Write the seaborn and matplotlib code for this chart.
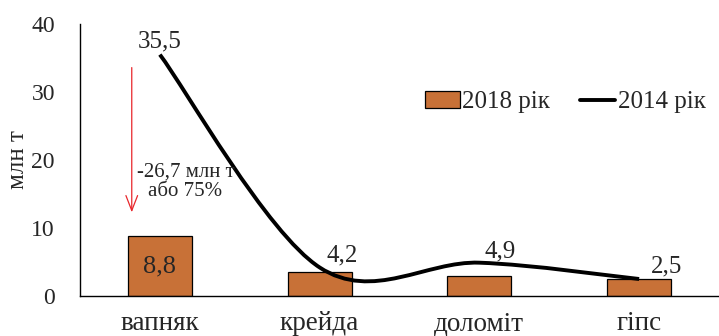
import matplotlib
matplotlib.use("Agg")
import matplotlib.pyplot as plt
from matplotlib.path import Path
from matplotlib.patches import PathPatch
import numpy as np
import pandas as pd
import seaborn as sns

# Production of non-metallic raw materials, million tonnes
minerals = ["вапняк", "крейда", "доломіт", "гіпс"]
output_2018 = [8.8, 3.55, 2.95, 2.5]
output_2014 = [35.5, 4.2, 4.9, 2.5]
label_2018 = "2018 рік"
label_2014 = "2014 рік"
y_ticks = [0, 10, 20, 30, 40]

bar_color = "#C87137"

sns.set_theme(style="white")
plt.rcParams["font.family"] = ["Liberation Serif", "DejaVu Serif"]

fig = plt.figure(figsize=(7.19, 3.36), dpi=100)
ax = fig.add_axes([80 / 719, 40 / 336, 639 / 719, 272 / 336])

df = pd.DataFrame({"mineral": minerals, "value": output_2018})
sns.barplot(data=df, x="mineral", y="value", color=bar_color, width=0.4,
            saturation=1, edgecolor="black", linewidth=0.9, ax=ax,
            label=label_2018, zorder=2)

# Smoothed 2014 curve: Catmull-Rom segments as cubic Bezier pieces
pts = np.column_stack([np.arange(len(output_2014)), output_2014]).astype(float)
padded = np.vstack([pts[0], pts, pts[-1]])
verts = [tuple(pts[0])]
codes = [Path.MOVETO]
for i in range(len(pts) - 1):
    p0, p1, p2, p3 = padded[i], padded[i + 1], padded[i + 2], padded[i + 3]
    c1 = p1 + (p2 - p0) / 6
    c2 = p2 - (p3 - p1) / 6
    verts += [tuple(c1), tuple(c2), tuple(p2)]
    codes += [Path.CURVE4] * 3
curve = PathPatch(Path(verts, codes), facecolor="none", edgecolor="black",
                  linewidth=2.8, capstyle="butt", zorder=3)
ax.add_patch(curve)
line_handle = ax.plot([], [], color="black", linewidth=2.8, label=label_2014)[0]

# Value labels
ax.text(0, output_2018[0] / 2, f"{output_2018[0]:.1f}".replace(".", ","),
        ha="center", va="center", fontsize=19, zorder=4)
label_offsets = [(0.0, 2.0), (0.14, 1.8), (0.13, 1.6), (0.17, 1.8)]
for i, (v, (dx, dy)) in enumerate(zip(output_2014, label_offsets)):
    ax.text(i + dx, v + dy, f"{v:.1f}".replace(".", ","), ha="center",
            va="center", fontsize=18, zorder=4)

# Decline annotation for limestone
ax.annotate("", xy=(-0.176, 11.9), xytext=(-0.176, 34.0),
            arrowprops=dict(arrowstyle="->,head_length=0.9,head_width=0.35",
                            color="#E8262B", lw=0.9))
ax.text(0.16, 16.8, "-26,7 млн т\nабо 75%", ha="center", va="center",
        multialignment="center", fontsize=15, linespacing=1.05)

ax.set_xlim(-0.5, 3.5)
ax.set_ylim(0, 40)
ax.set_yticks(y_ticks)
ax.set_yticklabels([str(t) for t in y_ticks])
ax.set_xlabel("")
ax.set_ylabel("млн т", fontsize=18, labelpad=2)
ax.tick_params(axis="y", labelsize=17, length=0, pad=18)
ax.tick_params(axis="x", labelsize=19.5, length=0, pad=11)
for side in ["top", "right"]:
    ax.spines[side].set_visible(False)
for side in ["left", "bottom"]:
    ax.spines[side].set_color("black")
    ax.spines[side].set_linewidth(1.0)
ax.spines["bottom"].set_zorder(5)

ax.legend(handles=[ax.patches[0], line_handle], labels=[label_2018, label_2014],
          loc="center", bbox_to_anchor=(0.759, 0.713), ncol=2, frameon=False,
          fontsize=18, handlelength=1.4, handletextpad=0.1, columnspacing=1.2,
          borderpad=0, borderaxespad=0)

fig.savefig("out.png", dpi=100)
